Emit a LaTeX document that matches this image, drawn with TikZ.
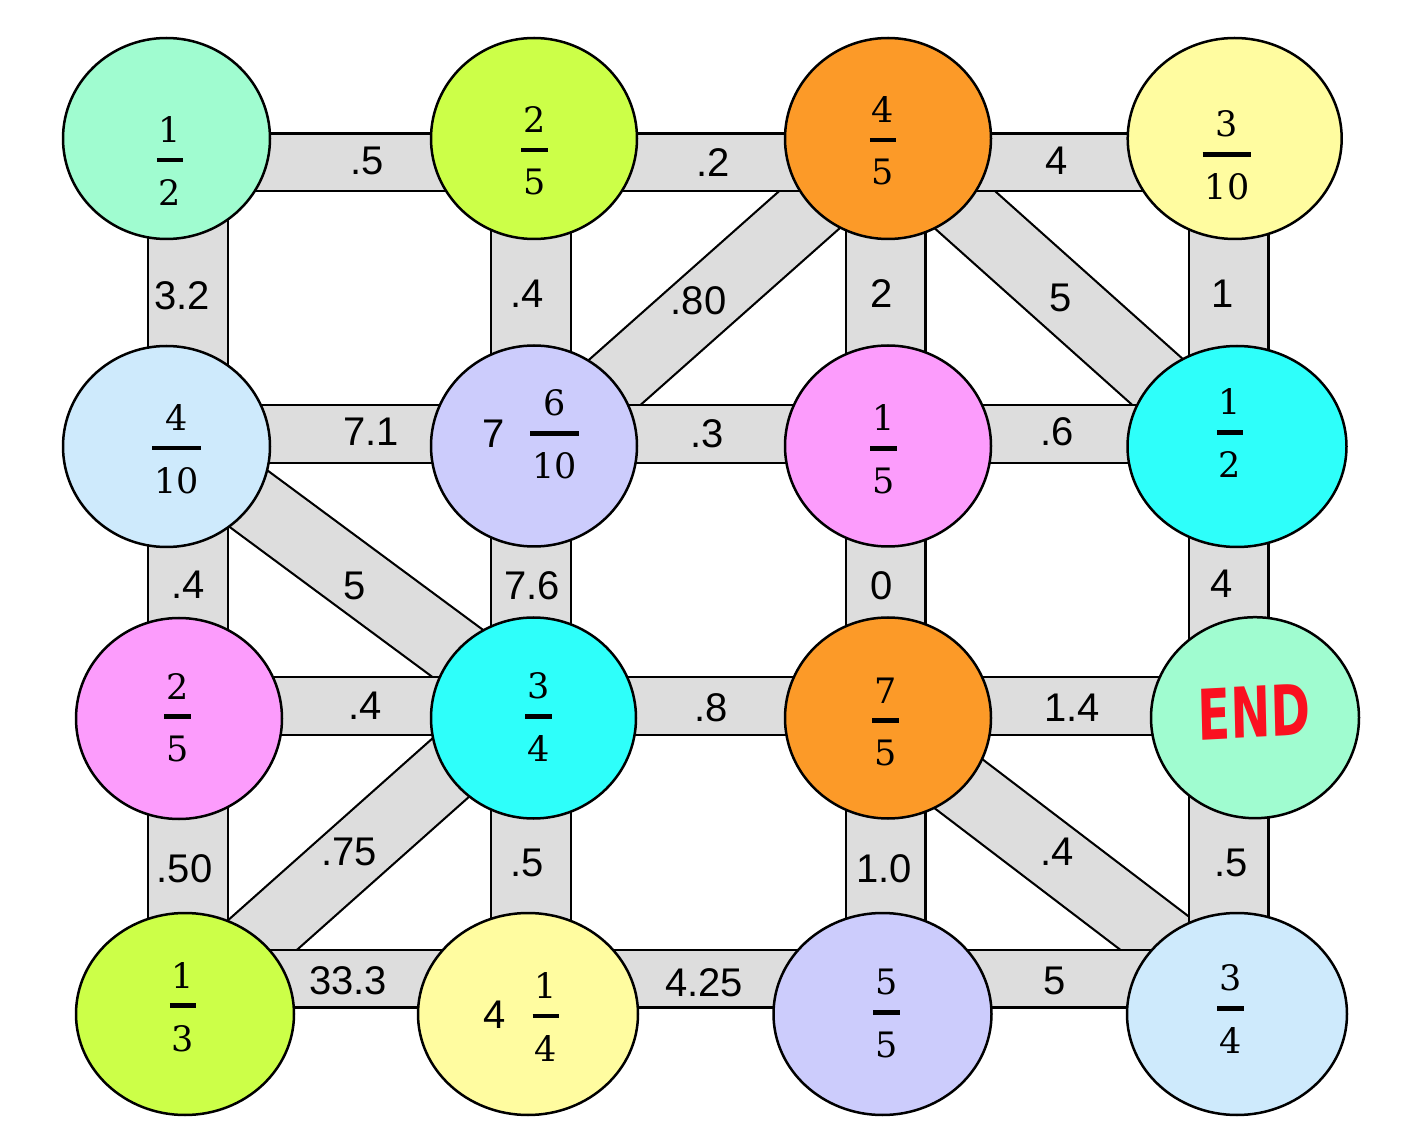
\documentclass[tikz,border=0pt]{standalone}
\usepackage{fontspec}
\newfontfamily\arial{Liberation Sans}
\newfontfamily\fracfont{DejaVu Serif}
\newfontfamily\endfont{DejaVu Sans}
\usetikzlibrary{shapes.geometric,calc}
\pgfdeclarelayer{bg}\pgfdeclarelayer{mid}
\pgfsetlayers{bg,mid,main}
\definecolor{mint}{RGB}{160,252,208}
\definecolor{lime}{RGB}{204,255,72}
\definecolor{orng}{RGB}{252,154,40}
\definecolor{ylw}{RGB}{255,252,160}
\definecolor{lblue}{RGB}{206,234,252}
\definecolor{lav}{RGB}{204,204,252}
\definecolor{pnk}{RGB}{252,156,252}
\definecolor{cyn}{RGB}{46,255,250}
\definecolor{barfill}{RGB}{221,221,221}
\definecolor{endred}{RGB}{250,16,32}
\newcommand\fr[2]{{\fracfont\fontsize{17.5}{17.5}\selectfont
 \setbox0\hbox{#1}\setbox2\hbox{#2}%
 \dimen0=\wd0 \ifdim\wd2>\dimen0 \dimen0=\wd2 \fi
 \advance\dimen0 by 2pt
 \vbox{\offinterlineskip\hbox to\dimen0{\hss\box0\hss}\kern7.5pt\hrule height 2.3pt\kern8.5pt\hbox to\dimen0{\hss\box2\hss}}}}
\tikzset{
 ball/.style={ellipse, draw, line width=1.25pt, inner sep=0pt, outer sep=0pt},
 hbar/.style={draw=black, line width=1.1pt, double=barfill, double distance=27.8pt},
 vbar/.style={draw=black, line width=1.1pt, double=barfill, double distance=38.8pt},
 dbar/.style={draw=black, line width=1.1pt, double=barfill, double distance=32.8pt},
 lab/.style={font=\arial\fontsize{20}{20}\selectfont, inner sep=0pt},
 fracnode/.style={inner sep=0pt},
}
\begin{document}
\begin{tikzpicture}[x=0.5pt,y=-0.5pt]
\useasboundingbox (0,0) rectangle (1420,1144);
% circles
\node[ball, fill=mint,  minimum width=103.5pt, minimum height=100.5pt] (n11) at (166.5,138.5) {};
\node[ball, fill=lime,  minimum width=103pt, minimum height=100.5pt] (n12) at (534,138.5) {};
\node[ball, fill=orng,  minimum width=103pt, minimum height=100.5pt] (n13) at (888,138.5) {};
\node[ball, fill=ylw,   minimum width=107pt, minimum height=100.5pt] (n14) at (1234.7,138.5) {};
\node[ball, fill=lblue, minimum width=103.5pt, minimum height=100.5pt] (n21) at (166.5,446.5) {};
\node[ball, fill=lav,   minimum width=103pt, minimum height=100.5pt] (n22) at (534,446) {};
\node[ball, fill=pnk,   minimum width=103pt, minimum height=100.5pt] (n23) at (888,446) {};
\node[ball, fill=cyn,   minimum width=109.5pt, minimum height=100.5pt] (n24) at (1237,446.5) {};
\node[ball, fill=pnk,   minimum width=103pt, minimum height=100.5pt] (n31) at (179,718.5) {};
\node[ball, fill=cyn,   minimum width=102.5pt, minimum height=100.5pt] (n32) at (533.5,718) {};
\node[ball, fill=orng,  minimum width=103pt, minimum height=100.5pt] (n33) at (888,718) {};
\node[ball, fill=mint,  minimum width=104pt, minimum height=100.5pt] (n34) at (1255,717.7) {};
\node[ball, fill=lime,  minimum width=109pt, minimum height=101pt] (n41) at (185,1014) {};
\node[ball, fill=ylw,   minimum width=110pt, minimum height=101pt] (n42) at (528,1014) {};
\node[ball, fill=lav,   minimum width=109pt, minimum height=101pt] (n43) at (882.5,1014) {};
\node[ball, fill=lblue, minimum width=110pt, minimum height=101pt] (n44) at (1237,1014) {};
% bar axis coordinates
\coordinate (r1) at (0,162.5);
\coordinate (r2) at (0,434);
\coordinate (r3) at (0,706);
\coordinate (r4) at (0,978.5);
\coordinate (c1) at (188,0);
\coordinate (c2) at (531,0);
\coordinate (c3) at (885.5,0);
\coordinate (c4) at (1228.5,0);
% diagonal bars
\begin{pgfonlayer}{bg}
\draw[dbar] ($(n22)+(0,8)$) -- ($(n13)+(0,1.5)$);
\draw[dbar] ($(n13)+(0,2.5)$) -- ($(n24)+(0,6.5)$);
\draw[dbar] ($(n21)+(0,-8.5)$) -- ($(n32)+(0,-8.5)$);
\draw[dbar] ($(n32)+(0,-24)$) -- ($(n41)+(0,-10)$);
\draw[dbar] ($(n33)+(0,12)$) -- ($(n44)+(0,-18)$);
\end{pgfonlayer}
% straight bars
\begin{pgfonlayer}{mid}
\foreach \r/\a/\b in {r1/n11/n12, r1/n12/n13, r1/n13/n14,
                      r2/n21/n22, r2/n22/n23, r2/n23/n24,
                      r3/n31/n32, r3/n32/n33, r3/n33/n34,
                      r4/n41/n42, r4/n42/n43, r4/n43/n44}
  \draw[hbar] (\a |- \r) -- (\b |- \r);
\foreach \c/\a/\b in {c1/n11/n21, c1/n21/n31, c1/n31/n41,
                      c2/n12/n22, c2/n22/n32, c2/n32/n42,
                      c3/n13/n23, c3/n23/n33, c3/n33/n43,
                      c4/n14/n24, c4/n24/n34, c4/n34/n44}
  \draw[vbar] (\c |- \a) -- (\c |- \b);
\end{pgfonlayer}
% fractions
\node[fracnode] (f11) at (170,161) {\fr{1}{2}};
\node[fracnode] (f12) at (534.6,151) {\fr{2}{5}};
\node[fracnode] (f13) at (883,141) {\fr{4}{5}};
\node[fracnode] (f14) at (1227,155.3) {\fr{3}{10}};
\node[fracnode] (f21) at (176.3,449.3) {\fr{4}{10}};
\node[fracnode] (f22) at (554.5,434.3) {\fr{6}{10}};
\node[lab] (w22) at (494,434) {7};
\node[fracnode] (f23) at (883.4,449.3) {\fr{1}{5}};
\node[fracnode] (f24) at (1230,433.3) {\fr{1}{2}};
\node[fracnode] (f31) at (177.5,717.7) {\fr{2}{5}};
\node[fracnode] (f32) at (538.5,717) {\fr{3}{4}};
\node[fracnode] (f33) at (885.5,721.7) {\fr{7}{5}};
\node[inner sep=0pt, text=endred, font=\endfont\bfseries\fontsize{35}{35}\selectfont, xscale=0.68, rotate=2] (endt) at (1254,712) {END};
\node[fracnode] (f41) at (183,1007) {\fr{1}{3}};
\node[fracnode] (f42) at (545.8,1017) {\fr{1}{4}};
\node[lab] (w42) at (495,1014.7) {4};
\node[fracnode] (f43) at (886.6,1013.7) {\fr{5}{5}};
\node[fracnode] (f44) at (1230.6,1009.3) {\fr{3}{4}};
% edge labels
\node[lab] (e1) at (367,161) {.5};
\node[lab] (e2) at (713,163) {.2};
\node[lab] (e3) at (1056.7,161) {4};
\node[lab] (e4) at (371,432) {7.1};
\node[lab] (e5) at (707,434) {.3};
\node[lab] (e6) at (1057,432) {.6};
\node[lab] (e7) at (364.7,706) {.4};
\node[lab] (e8) at (711.4,707.5) {.8};
\node[lab] (e9) at (1072,708) {1.4};
\node[lab] (e10) at (348,981) {33.3};
\node[lab] (e11) at (704,983) {4.25};
\node[lab] (e12) at (1055,981) {5};
\node[lab] (e13) at (182,296) {3.2};
\node[lab] (e14) at (527,294) {.4};
\node[lab] (e15) at (882,294) {2};
\node[lab] (e16) at (1223,294) {1};
\node[lab] (e17) at (187.7,585) {.4};
\node[lab] (e18) at (532,586) {7.6};
\node[lab] (e19) at (882,586) {0};
\node[lab] (e20) at (1222,584) {4};
\node[lab] (e21) at (184.6,869) {.50};
\node[lab] (e22) at (527,862.5) {.5};
\node[lab] (e23) at (884,869) {1.0};
\node[lab] (e24) at (1231,862.5) {.5};
\node[lab] (e25) at (698.5,301) {.80};
\node[lab] (e26) at (1061,298) {5};
\node[lab] (e27) at (355,586) {5};
\node[lab] (e28) at (349,852) {.75};
\node[lab] (e29) at (1057,852) {.4};
\end{tikzpicture}
\end{document}
